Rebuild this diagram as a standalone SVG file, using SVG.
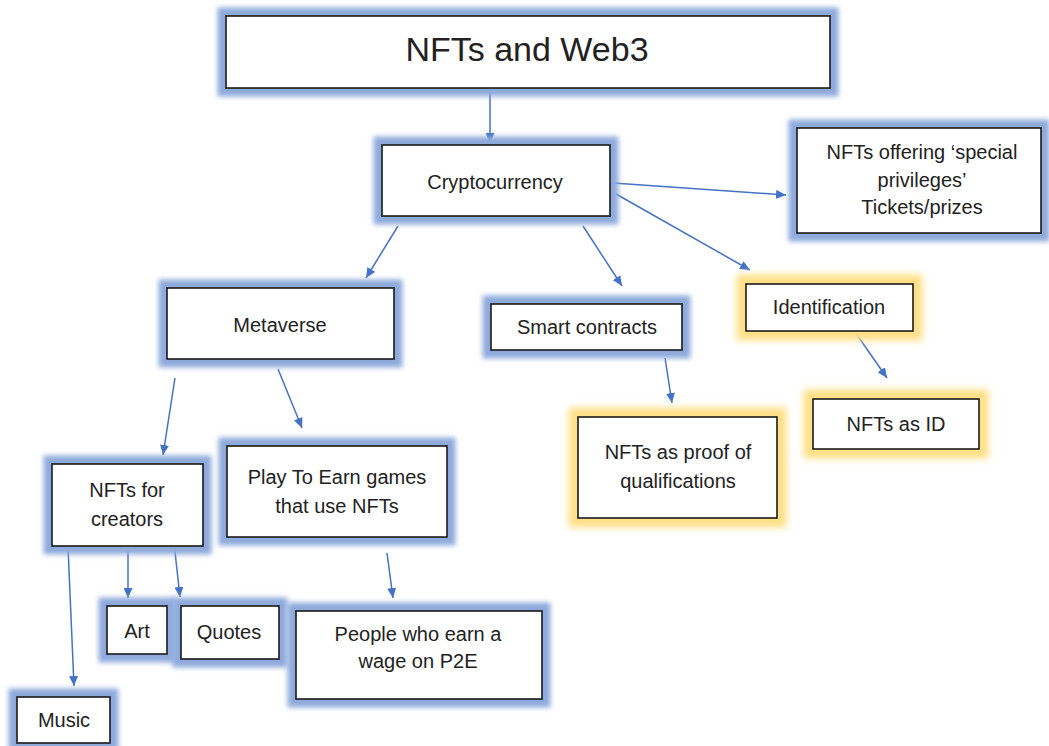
<svg xmlns="http://www.w3.org/2000/svg" width="1049" height="746" viewBox="0 0 1049 746">
  <style>
    .glow-b { fill: none; stroke: #8eaadc; stroke-width: 17; filter: url(#soft); }
    .glow-y { fill: none; stroke: #ffdf85; stroke-width: 19; filter: url(#softer); }
    .box { fill: #ffffff; stroke: #1a1a1a; stroke-width: 1.6; }
    .lbl { font-family: "Liberation Sans", Arial, sans-serif; font-size: 20px; fill: #222; text-anchor: middle; }
    .title { font-size: 34px; }
    .link { stroke: #4472c4; stroke-width: 1.5; fill: none; marker-end: url(#head); }
  </style>
  <defs>
    <filter id="soft" x="-20%" y="-40%" width="140%" height="180%">
      <feGaussianBlur stdDeviation="2.8"/>
    </filter>
    <filter id="softer" x="-20%" y="-40%" width="140%" height="180%">
      <feGaussianBlur stdDeviation="3.8"/>
    </filter>
    <marker id="head" markerWidth="10" markerHeight="9" refX="10" refY="4.5" orient="auto" markerUnits="userSpaceOnUse">
      <path d="M0,0 L10,4.5 L0,9 z" fill="#4472c4"/>
    </marker>
  </defs>
  <rect width="1049" height="746" fill="#ffffff"/>

  <!-- connectors -->
  <g id="connectors">
    <line class="link" x1="490" y1="88" x2="490" y2="143"/>
    <line class="link" x1="613" y1="183" x2="786" y2="195"/>
    <line class="link" x1="616" y1="194" x2="750" y2="270"/>
    <line class="link" x1="398" y1="226" x2="366" y2="278"/>
    <line class="link" x1="583" y1="226" x2="622" y2="286"/>
    <line class="link" x1="665" y1="358" x2="672" y2="403"/>
    <line class="link" x1="855" y1="332" x2="887" y2="378"/>
    <line class="link" x1="175" y1="378" x2="163" y2="455"/>
    <line class="link" x1="278" y1="369" x2="302" y2="428"/>
    <line class="link" x1="68" y1="547" x2="74" y2="686"/>
    <line class="link" x1="128" y1="547" x2="128" y2="598"/>
    <line class="link" x1="174" y1="543" x2="180" y2="597"/>
    <line class="link" x1="387" y1="553" x2="393" y2="598"/>
  </g>

  <g id="node-title">
    <rect class="glow-b" x="226" y="16" width="604" height="72"/>
    <rect class="box" x="226" y="16" width="604" height="72"/>
    <text class="lbl title" x="527" y="61">NFTs and Web3</text>
  </g>

  <g id="node-crypto">
    <rect class="glow-b" x="382" y="145" width="228" height="71"/>
    <rect class="box" x="382" y="145" width="228" height="71"/>
    <text class="lbl" x="495" y="189">Cryptocurrency</text>
  </g>

  <g id="node-privileges">
    <rect class="glow-b" x="797" y="128" width="244" height="105"/>
    <rect class="box" x="797" y="128" width="244" height="105"/>
    <text class="lbl" x="922" y="159">NFTs offering ‘special</text>
    <text class="lbl" x="922" y="187">privileges’</text>
    <text class="lbl" x="922" y="214">Tickets/prizes</text>
  </g>

  <g id="node-metaverse">
    <rect class="glow-b" x="167" y="288" width="227" height="71"/>
    <rect class="box" x="167" y="288" width="227" height="71"/>
    <text class="lbl" x="280" y="332">Metaverse</text>
  </g>

  <g id="node-smart">
    <rect class="glow-b" x="491" y="304" width="191" height="46"/>
    <rect class="box" x="491" y="304" width="191" height="46"/>
    <text class="lbl" x="587" y="334">Smart contracts</text>
  </g>

  <g id="node-identification">
    <rect class="glow-y" x="746" y="284" width="167" height="47"/>
    <rect class="box" x="746" y="284" width="167" height="47"/>
    <text class="lbl" x="829" y="314">Identification</text>
  </g>

  <g id="node-proof">
    <rect class="glow-y" x="578" y="417" width="199" height="101"/>
    <rect class="box" x="578" y="417" width="199" height="101"/>
    <text class="lbl" x="678" y="459">NFTs as proof of</text>
    <text class="lbl" x="678" y="488">qualifications</text>
  </g>

  <g id="node-id">
    <rect class="glow-y" x="813" y="399" width="166" height="50"/>
    <rect class="box" x="813" y="399" width="166" height="50"/>
    <text class="lbl" x="896" y="431">NFTs as ID</text>
  </g>

  <g id="node-creators">
    <rect class="glow-b" x="52" y="464" width="151" height="82"/>
    <rect class="box" x="52" y="464" width="151" height="82"/>
    <text class="lbl" x="127" y="497">NFTs for</text>
    <text class="lbl" x="127" y="526">creators</text>
  </g>

  <g id="node-play">
    <rect class="glow-b" x="227" y="446" width="220" height="91"/>
    <rect class="box" x="227" y="446" width="220" height="91"/>
    <text class="lbl" x="337" y="484">Play To Earn games</text>
    <text class="lbl" x="337" y="513">that use NFTs</text>
  </g>

  <g id="node-art">
    <rect class="glow-b" x="107" y="606" width="60" height="48"/>
    <rect class="box" x="107" y="606" width="60" height="48"/>
    <text class="lbl" x="137" y="638">Art</text>
  </g>

  <g id="node-quotes">
    <rect class="glow-b" x="181" y="606" width="98" height="53"/>
    <rect class="box" x="181" y="606" width="98" height="53"/>
    <text class="lbl" x="229" y="639">Quotes</text>
  </g>

  <g id="node-people">
    <rect class="glow-b" x="296" y="611" width="246" height="88"/>
    <rect class="box" x="296" y="611" width="246" height="88"/>
    <text class="lbl" x="418" y="641">People who earn a</text>
    <text class="lbl" x="418" y="668">wage on P2E</text>
  </g>

  <g id="node-music">
    <rect class="glow-b" x="17" y="697" width="93" height="46"/>
    <rect class="box" x="17" y="697" width="93" height="46"/>
    <text class="lbl" x="64" y="727">Music</text>
  </g>
</svg>
